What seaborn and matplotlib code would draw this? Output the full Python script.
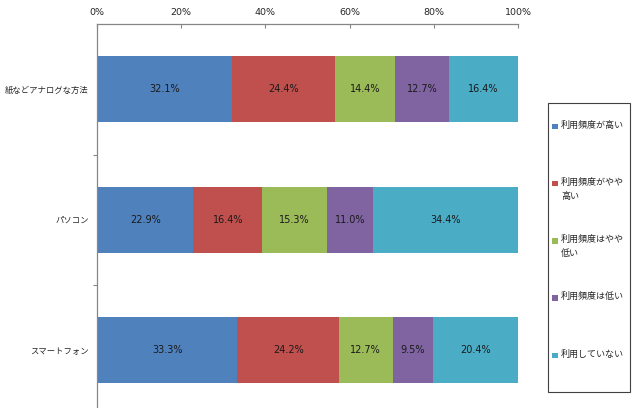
import numpy as np
import pandas as pd
import matplotlib
matplotlib.use("Agg")
import matplotlib.pyplot as plt
from matplotlib.patches import Rectangle
from matplotlib.ticker import FixedLocator, FuncFormatter
import seaborn as sns

categories = ["紙などアナログな方法", "パソコン", "スマートフォン"]
series = ["利用頻度が高い", "利用頻度がやや\n高い", "利用頻度はやや\n低い", "利用頻度は低い", "利用していない"]
v_high = [32.1, 22.9, 33.3]
v_somewhat_high = [24.4, 16.4, 24.2]
v_somewhat_low = [14.4, 15.3, 12.7]
v_low = [12.7, 11.0, 9.5]
v_none = [16.4, 34.4, 20.4]
colors = ["#4F81BD", "#C0504D", "#9BBB59", "#8064A2", "#4BACC6"]
x_ticks = [0, 20, 40, 60, 80, 100]

sns.set_theme(style="white")
plt.rcParams["font.family"] = ["Noto Sans CJK JP", "DejaVu Sans"]

vals = np.array([v_high, v_somewhat_high, v_somewhat_low, v_low, v_none])  # (5, 3)
cum = np.cumsum(vals, axis=0)

fig = plt.figure(figsize=(6.4, 4.08), dpi=100)
W, H = 640, 408
ax_left, ax_right, ax_top = 97, 518, 24
band = 130.5
ax_bottom = ax_top + 3 * band
ax = fig.add_axes([ax_left / W, 1 - ax_bottom / H, (ax_right - ax_left) / W, 3 * band / H])

for i in reversed(range(len(series))):
    df = pd.DataFrame({"cat": categories, "val": cum[i]})
    sns.barplot(data=df, x="val", y="cat", color=colors[i], orient="h",
                width=0.506, saturation=1, linewidth=0, ax=ax)

for i in range(len(series)):
    for j in range(len(categories)):
        center = cum[i, j] - vals[i, j] / 2
        ax.text(center, j, f"{vals[i, j]:.1f}%", ha="center", va="center",
                fontsize=7, color="#1a1a1a", family=["DejaVu Sans"])

ax.set_xlim(0, 100)
ax.set_ylim(2.5, -0.5)
ax.set_xlabel("")
ax.set_ylabel("")
ax.xaxis.tick_top()
ax.set_xticks(x_ticks)
ax.xaxis.set_major_formatter(FuncFormatter(lambda v, p: f"{v:.0f}%"))
ax.tick_params(axis="x", direction="in", length=3, width=0.8, color="#868686",
               labelsize=6.8, pad=5, labelcolor="#262626")
for lab in ax.get_xticklabels():
    lab.set_family("DejaVu Sans")
ax.yaxis.set_minor_locator(FixedLocator([0.5, 1.5]))
ax.tick_params(axis="y", which="major", length=0, labelsize=6, pad=5.8, labelcolor="#262626")
ax.tick_params(axis="y", which="minor", left=True, direction="out", length=3, width=0.8, color="#868686")

for s in ["right", "bottom"]:
    ax.spines[s].set_visible(False)
for s in ["left", "top"]:
    ax.spines[s].set_color("#868686")
    ax.spines[s].set_linewidth(0.9)

# Legend box drawn in pixel coordinates
lx0, lx1, ly0, ly1 = 548, 630, 103, 392
fig.add_artist(Rectangle((lx0 / W, 1 - ly1 / H), (lx1 - lx0) / W, (ly1 - ly0) / H,
                         transform=fig.transFigure, fill=False, edgecolor="#404040", linewidth=0.8))
entry_y = [126.5, 183.5, 241, 298, 355.5]
for name, col, ey in zip(series, colors, entry_y):
    fig.add_artist(Rectangle((552 / W, 1 - (ey + 2.5) / H), 5.5 / W, 5.5 / H,
                             transform=fig.transFigure, facecolor=col, edgecolor="none"))
    fig.text(561 / W, 1 - (ey - 6) / H, name, ha="left", va="top", fontsize=6.5,
             color="#262626", linespacing=1.7)

fig.savefig("out.png", dpi=100)
